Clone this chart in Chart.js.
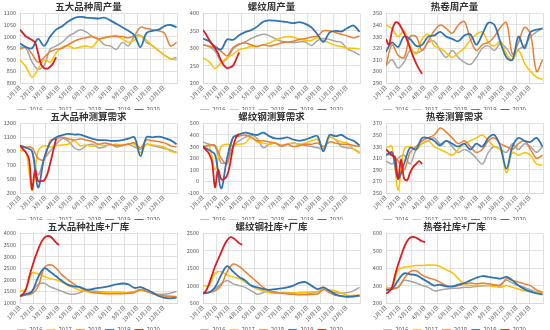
<!DOCTYPE html>
<html>
<head>
<meta charset="utf-8">
<script src="https://cdn.jsdelivr.net/npm/chart.js@4.4.1/dist/chart.umd.min.js"></script>
<style>
body { margin: 0; background: #fff; }
#grid { position: relative; width: 550px; height: 330px; }
.cell { position: absolute; height: 110px; }
</style>
</head>
<body>
<div id="grid"></div>
<script>
// x = jour de l'année ; séries 2016-2019 toutes les 2 semaines, 2020 chaque semaine
const days2w = [0, 14, 28, 42, 56, 70, 84, 98, 112, 126, 140, 154, 168, 182, 196, 210, 224, 238, 252, 266, 280, 294, 308, 322, 336, 350, 364];
const days1w = [0, 7, 14, 21, 28, 35, 42, 49, 56, 63, 70, 77, 84, 91];
const monthDays = [0, 31, 59, 90, 120, 151, 181, 212, 243, 273, 304, 334, 365];
const monthLabels = ['1月1日', '2月1日', '3月1日', '4月1日', '5月1日', '6月1日', '7月1日', '8月1日', '9月1日', '10月1日', '11月1日', '12月1日', ''];
const years = ['2016', '2017', '2018', '2019', '2020'];
const titles = ['五大品种周产量', '螺纹周产量', '热卷周产量', '五大品种测算需求', '螺纹钢测算需求', '热卷测算需求', '五大品种社库+厂库', '螺纹钢社库+厂库', '热卷社库+厂库'];

// 五大品种周产量
const p1_2016 = [955, 950, 890, 860, 875, 945, 960, 975, 1000, 1015, 1030, 1020, 1000, 990, 965, 960, 945, 975, 960, 1000, 1005, 975, 960, 940, 920, 905, 910];
const p1_2017 = [900, 870, 825, 860, 900, 890, 930, 955, 960, 950, 955, 960, 955, 985, 995, 1000, 1005, 990, 975, 985, 1005, 985, 960, 940, 920, 905, 900];
const p1_2018 = [945, 955, 925, 890, 910, 935, 945, 950, 965, 980, 990, 995, 1000, 990, 995, 1000, 1000, 1000, 995, 1005, 1040, 1035, 1030, 1025, 1015, 960, 975];
const p1_2019 = [970, 955, 950, 990, 960, 1000, 1030, 1045, 1065, 1080, 1085, 1082, 1080, 1078, 1082, 1070, 1055, 1040, 1025, 1005, 955, 1015, 1025, 1030, 1045, 1050, 1040];
const p1_2020 = [1030, 1015, 1000, 993, 985, 975, 930, 880, 865, 862, 870, 885, 912];

// 螺纹周产量
const p2_2016 = [310, 305, 292, 262, 270, 298, 310, 318, 328, 335, 340, 336, 327, 320, 318, 316, 318, 318, 308, 322, 328, 325, 320, 316, 298, 290, 280];
const p2_2017 = [272, 262, 242, 258, 272, 282, 296, 300, 305, 305, 310, 315, 323, 330, 333, 332, 326, 322, 322, 330, 322, 315, 308, 305, 300, 300, 298];
const p2_2018 = [310, 306, 301, 291, 278, 302, 312, 315, 310, 305, 310, 306, 310, 315, 318, 320, 325, 328, 332, 335, 350, 350, 345, 340, 335, 330, 335];
const p2_2019 = [328, 320, 305, 296, 325, 324, 337, 346, 352, 362, 376, 380, 379, 377, 375, 372, 375, 370, 360, 340, 318, 345, 350, 348, 358, 365, 347];
const p2_2020 = [352, 340, 325, 312, 300, 285, 265, 250, 243, 245, 250, 268, 288];

// 热卷周产量
const p3_2016 = [305, 310, 303, 308, 318, 316, 318, 325, 326, 318, 312, 318, 312, 308, 306, 312, 320, 322, 318, 324, 320, 313, 319, 322, 330, 334, 337];
const p3_2017 = [340, 337, 330, 335, 322, 315, 328, 332, 322, 320, 316, 312, 316, 320, 327, 332, 334, 325, 322, 326, 315, 310, 318, 307, 300, 295, 293];
const p3_2018 = [305, 323, 314, 312, 330, 330, 318, 326, 335, 340, 337, 333, 340, 343, 328, 318, 323, 325, 330, 338, 342, 315, 325, 338, 332, 300, 310];
const p3_2019 = [317, 325, 321, 330, 328, 322, 323, 330, 331, 334, 330, 328, 326, 331, 332, 323, 332, 342, 340, 325, 312, 310, 330, 320, 334, 336, 337];
const p3_2020 = [328, 323, 335, 342, 342, 338, 333, 327, 320, 313, 307, 302, 298];

// 五大品种测算需求
const p4_2016 = [960, 950, 900, 560, 780, 900, 1000, 1080, 1050, 950, 920, 980, 1000, 950, 960, 1000, 960, 980, 1000, 960, 930, 1000, 980, 960, 940, 920, 880];
const p4_2017 = [920, 890, 340, 900, 980, 960, 980, 990, 1000, 1050, 980, 990, 970, 1000, 980, 990, 1000, 980, 1010, 1000, 880, 1000, 990, 980, 960, 900, 880];
const p4_2018 = [980, 960, 950, 800, 780, 1050, 1080, 1100, 1080, 1060, 1080, 1060, 1040, 1000, 1020, 1000, 980, 990, 1000, 1020, 950, 1060, 1050, 1040, 1020, 980, 960];
const p4_2019 = [980, 950, 900, 380, 800, 1020, 1100, 1130, 1150, 1140, 1140, 1110, 1080, 1060, 1060, 1050, 1050, 1060, 1080, 1100, 830, 1100, 1100, 1110, 1090, 1060, 1000];
const p4_2020 = [985, 930, 880, 790, 350, 620, 470, 470, 480, 560, 720, 900, 1080];

// 螺纹钢测算需求
const p5_2016 = [340, 320, 300, 160, 170, 300, 350, 380, 400, 370, 290, 320, 330, 300, 320, 330, 320, 310, 300, 290, 280, 380, 360, 300, 290, 280, 250];
const p5_2017 = [300, 310, 100, 300, 320, 310, 320, 330, 380, 340, 330, 320, 330, 310, 320, 330, 320, 330, 350, 360, 260, 380, 360, 340, 330, 280, 240];
const p5_2018 = [300, 310, 310, 200, 150, 380, 390, 400, 380, 350, 350, 340, 330, 310, 320, 300, 310, 320, 320, 330, 300, 340, 330, 320, 320, 310, 300];
const p5_2019 = [300, 270, 230, -60, 200, 380, 405, 420, 410, 400, 420, 390, 370, 370, 380, 360, 350, 360, 380, 390, 260, 400, 390, 400, 370, 350, 310];
const p5_2020 = [300, 270, 240, 170, -50, 100, 20, 20, 50, 150, 300, 380, 410];

// 热卷测算需求
const p6_2016 = [305, 300, 310, 315, 300, 325, 335, 340, 345, 335, 340, 330, 320, 325, 320, 310, 300, 320, 330, 325, 320, 335, 325, 335, 330, 320, 330];
const p6_2017 = [328, 330, 255, 325, 330, 325, 335, 340, 330, 325, 320, 315, 325, 335, 340, 345, 350, 340, 330, 325, 285, 320, 315, 320, 315, 300, 298];
const p6_2018 = [317, 315, 305, 290, 320, 330, 340, 345, 350, 362, 355, 345, 335, 340, 330, 320, 325, 340, 345, 335, 330, 325, 335, 340, 325, 310, 315];
const p6_2019 = [315, 320, 275, 300, 328, 325, 345, 345, 340, 332, 340, 335, 330, 335, 325, 335, 330, 345, 350, 330, 292, 330, 345, 340, 338, 345, 330];
const p6_2020 = [325, 320, 315, 312, 274, 308, 275, 272, 285, 295, 300, 305, 300];

// 五大品种社库+厂库
const p7_2016 = [1300, 1350, 1500, 1800, 1850, 1700, 1600, 1500, 1400, 1380, 1450, 1550, 1520, 1500, 1470, 1450, 1450, 1450, 1440, 1480, 1580, 1500, 1420, 1380, 1380, 1420, 1500];
const p7_2017 = [1500, 1600, 2300, 2250, 2150, 2050, 2000, 1900, 1750, 1650, 1550, 1500, 1450, 1450, 1450, 1450, 1450, 1450, 1450, 1500, 1550, 1500, 1450, 1350, 1300, 1300, 1280];
const p7_2018 = [1300, 1350, 1400, 1700, 2500, 2650, 2500, 2200, 2000, 1800, 1650, 1550, 1450, 1420, 1400, 1400, 1400, 1400, 1420, 1450, 1580, 1500, 1400, 1350, 1300, 1280, 1260];
const p7_2019 = [1300, 1380, 1500, 2100, 2500, 2350, 2150, 1950, 1780, 1720, 1680, 1580, 1600, 1650, 1680, 1740, 1800, 1840, 1800, 1650, 1680, 1580, 1450, 1300, 1220, 1200, 1230];
const p7_2020 = [1300, 1380, 1600, 2100, 2550, 2950, 3300, 3600, 3800, 3880, 3870, 3750, 3600, 3500];

// 螺纹钢社库+厂库
const p8_2016 = [800, 820, 900, 1050, 1150, 1050, 1000, 950, 850, 750, 800, 850, 820, 800, 800, 790, 800, 800, 780, 820, 900, 850, 800, 780, 800, 850, 950];
const p8_2017 = [1000, 1000, 1350, 1400, 1300, 1250, 1200, 1100, 1000, 900, 850, 800, 780, 780, 780, 790, 800, 810, 820, 830, 900, 880, 850, 780, 720, 720, 720];
const p8_2018 = [780, 800, 850, 1000, 1400, 1620, 1550, 1400, 1250, 1100, 950, 850, 800, 780, 760, 750, 740, 740, 750, 760, 880, 800, 720, 700, 680, 680, 700];
const p8_2019 = [780, 800, 950, 1300, 1560, 1400, 1250, 1150, 1000, 950, 900, 880, 900, 920, 950, 1000, 1080, 1100, 1000, 900, 950, 850, 750, 700, 680, 690, 720];
const p8_2020 = [770, 850, 1050, 1300, 1550, 1750, 1950, 2150, 2300, 2390, 2370, 2300, 2220, 2170];

// 热卷社库+厂库
const p9_2016 = [290, 285, 290, 330, 325, 315, 300, 290, 270, 275, 280, 285, 285, 290, 290, 295, 298, 300, 300, 305, 330, 315, 300, 290, 275, 265, 255];
const p9_2017 = [290, 290, 390, 405, 410, 415, 415, 418, 418, 410, 390, 375, 340, 310, 300, 300, 300, 300, 295, 290, 300, 290, 280, 270, 265, 265, 255];
const p9_2018 = [280, 280, 290, 340, 380, 385, 360, 345, 335, 320, 300, 295, 300, 310, 315, 310, 315, 310, 305, 300, 340, 330, 320, 310, 300, 275, 262];
const p9_2019 = [275, 280, 330, 370, 365, 360, 340, 320, 300, 305, 295, 295, 305, 315, 330, 345, 355, 350, 345, 340, 350, 330, 300, 280, 265, 255, 250];
const p9_2020 = [255, 265, 290, 360, 420, 470, 520, 555, 575, 580, 575, 565, 555, 550];

const colors = ['#A5A5A5', '#FFC000', '#ED7D31', '#2E75B6', '#E3191C'];

Chart.defaults.font.family = "'Noto Sans CJK SC', 'DejaVu Sans', sans-serif";
Chart.defaults.color = '#595959';

const grid = document.getElementById('grid');

function makeChart(idx, yMin, yMax, yStep, series) {
    const col = idx % 3;
    const row = Math.floor(idx / 3);
    const cell = document.createElement('div');
    cell.className = 'cell';
    cell.style.left = (col * 183) + 'px';
    cell.style.top = (row * 110) + 'px';
    cell.style.width = (col == 2 ? 184 : 183) + 'px';
    const canvas = document.createElement('canvas');
    cell.appendChild(canvas);
    grid.appendChild(cell);

    const datasets = series.map((vals, i) => {
        const xs = i == 4 ? days1w : days2w;
        return {
            label: years[i],
            data: vals.map((v, j) => ({ x: xs[j], y: v })),
            borderColor: colors[i],
            backgroundColor: colors[i],
            borderWidth: i >= 3 ? 1.8 : 1.5,
            pointRadius: 0,
            pointStyle: 'line',
            tension: 0.35,
            order: 4 - i
        };
    });

    new Chart(canvas, {
        type: 'line',
        data: { datasets: datasets },
        options: {
            responsive: true,
            maintainAspectRatio: false,
            animation: false,
            layout: { padding: { top: 0, left: 0, right: col == 2 ? 7 : 6, bottom: -13 } },
            plugins: {
                title: {
                    display: true,
                    text: titles[idx],
                    color: '#333',
                    font: { size: 9.5, weight: 'bold' },
                    padding: { top: 1, bottom: 1 }
                },
                legend: {
                    position: 'bottom',
                    labels: {
                        usePointStyle: true,
                        pointStyleWidth: 9,
                        padding: 4,
                        font: { size: 6 },
                        color: '#595959',
                        sort: (a, b) => a.datasetIndex - b.datasetIndex
                    }
                },
                tooltip: { enabled: false }
            },
            scales: {
                x: {
                    type: 'linear',
                    min: 0,
                    max: 365,
                    afterBuildTicks: s => { s.ticks = monthDays.map(d => ({ value: d })); },
                    afterFit: s => { s.height = 20; },
                    ticks: {
                        autoSkip: false,
                        minRotation: 45,
                        maxRotation: 45,
                        padding: 1,
                        font: { size: 5.5 },
                        callback: (v, i) => monthLabels[i]
                    },
                    grid: { color: '#D9D9D9', lineWidth: 0.8, drawTicks: false },
                    border: { color: '#D9D9D9' }
                },
                y: {
                    min: yMin,
                    max: yMax,
                    afterFit: s => { s.width = 20; },
                    ticks: { stepSize: yStep, padding: 4, font: { size: 5.5 }, callback: v => String(v) },
                    grid: { color: '#D9D9D9', lineWidth: 0.8, drawTicks: false },
                    border: { color: '#D9D9D9' }
                }
            }
        }
    });
}

makeChart(0, 800, 1100, 50, [p1_2016, p1_2017, p1_2018, p1_2019, p1_2020]);
makeChart(1, 200, 400, 50, [p2_2016, p2_2017, p2_2018, p2_2019, p2_2020]);
makeChart(2, 290, 350, 10, [p3_2016, p3_2017, p3_2018, p3_2019, p3_2020]);
makeChart(3, 300, 1300, 200, [p4_2016, p4_2017, p4_2018, p4_2019, p4_2020]);
makeChart(4, -100, 500, 100, [p5_2016, p5_2017, p5_2018, p5_2019, p5_2020]);
makeChart(5, 250, 370, 20, [p6_2016, p6_2017, p6_2018, p6_2019, p6_2020]);
makeChart(6, 1000, 4000, 500, [p7_2016, p7_2017, p7_2018, p7_2019, p7_2020]);
makeChart(7, 500, 2500, 500, [p8_2016, p8_2017, p8_2018, p8_2019, p8_2020]);
makeChart(8, 200, 600, 100, [p9_2016, p9_2017, p9_2018, p9_2019, p9_2020]);
</script>
</body>
</html>
